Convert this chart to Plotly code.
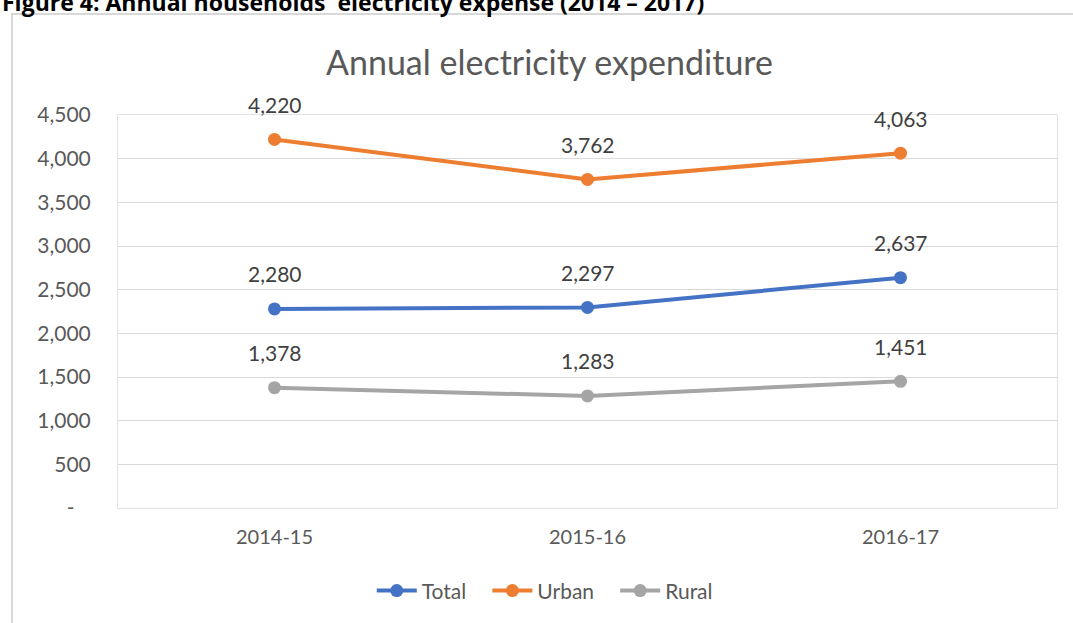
import plotly.graph_objects as go

# Annual household electricity expenditure by area
years = ["2014-15", "2015-16", "2016-17"]
total = [2280, 2297, 2637]
urban = [4220, 3762, 4063]
rural = [1378, 1283, 1451]

series = [
    ("Total", total, "#4472C4"),
    ("Urban", urban, "#ED7D31"),
    ("Rural", rural, "#A5A5A5"),
]

y_ticks = [0, 500, 1000, 1500, 2000, 2500, 3000, 3500, 4000, 4500]
y_tick_text = ["-\u00a0\u00a0\u00a0"] + [f"{v:,}" for v in y_ticks[1:]]

FONT = "Lato"
TEXT_GREY = "#595959"

fig = go.Figure()
annotations = []
for name, vals, color in series:
    fig.add_trace(go.Scatter(
        x=years, y=vals, name=name + "\u00a0\u00a0\u00a0", mode="lines+markers",
        line=dict(color=color, width=4),
        marker=dict(color=color, size=13),
        hoverinfo="skip",
    ))
    for yr, v in zip(years, vals):
        annotations.append(dict(
            x=yr, y=v, xref="x", yref="y", text=f"{v:,}", showarrow=False,
            yshift=35, font=dict(family=FONT, size=21, color="#404040"),
        ))

# chart title
annotations.append(dict(
    x=0.459, y=1.135, xref="paper", yref="paper", text="Annual electricity expenditure",
    showarrow=False, xanchor="center", yanchor="middle",
    font=dict(family=FONT, size=34, color=TEXT_GREY),
))
# figure caption above the chart frame
annotations.append(dict(
    x=-0.1257, y=1.2875, xref="paper", yref="paper",
    text="<b>Figure 4: Annual households' electricity expense (2014 – 2017)</b>",
    showarrow=False, xanchor="left", yanchor="middle",
    font=dict(family="Open Sans", size=23, color="#000000"),
))

fig.update_layout(
    width=1073, height=623,
    margin=dict(l=118, r=16, t=115, b=115),
    paper_bgcolor="white", plot_bgcolor="white",
    showlegend=True,
    legend=dict(
        orientation="h", x=0.463, y=-0.211, xanchor="center", yanchor="middle",
        font=dict(family=FONT, size=21, color=TEXT_GREY),
        itemwidth=40,
    ),
    annotations=annotations,
    shapes=[
        # outer chart frame
        dict(type="rect", xref="paper", yref="paper", x0=-0.1129, x1=1.2,
             y0=-0.6, y1=1.257, line=dict(color="#d9d9d9", width=2), layer="below"),
    ],
)

fig.update_xaxes(
    type="category", range=[-0.5, 2.5],
    showgrid=False, showline=True, mirror=True, linecolor="#e3e3e3", linewidth=1,
    ticks="", ticklabelstandoff=11,
    tickfont=dict(family=FONT, size=20, color=TEXT_GREY),
)
fig.update_yaxes(
    range=[0, 4500], tickvals=y_ticks, ticktext=y_tick_text,
    showgrid=True, gridcolor="#d9d9d9", gridwidth=1,
    showline=True, mirror=True, linecolor="#e3e3e3", linewidth=1,
    zeroline=False, ticks="", ticklabelstandoff=22,
    tickfont=dict(family=FONT, size=21, color=TEXT_GREY),
)

fig.write_html("out.html")
